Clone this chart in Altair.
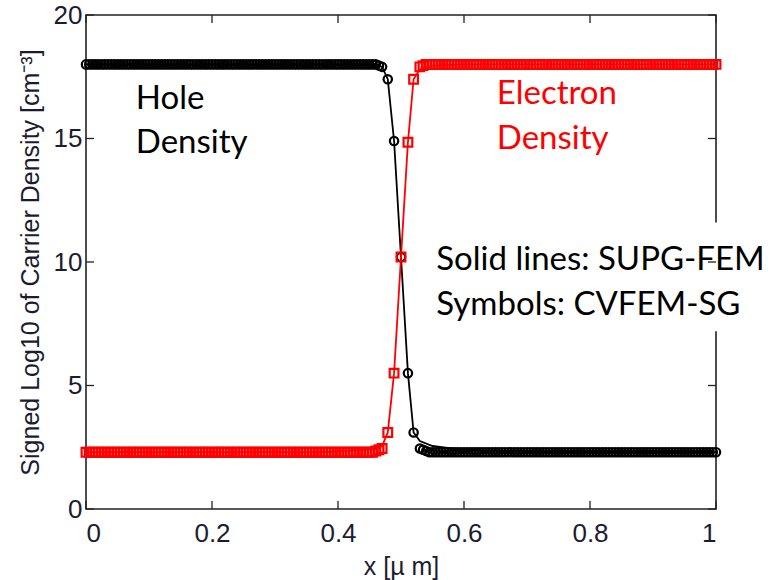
import altair as alt
import pandas as pd

# ---- data ----
x_left = [0.000, 0.005, 0.010, 0.015, 0.020, 0.025, 0.030, 0.035, 0.040, 0.045,
          0.050, 0.055, 0.060, 0.065, 0.070, 0.075, 0.080, 0.085, 0.090, 0.095,
          0.100, 0.105, 0.110, 0.115, 0.120, 0.125, 0.130, 0.135, 0.140, 0.145,
          0.150, 0.155, 0.160, 0.165, 0.170, 0.175, 0.180, 0.185, 0.190, 0.195,
          0.200, 0.205, 0.210, 0.215, 0.220, 0.225, 0.230, 0.235, 0.240, 0.245,
          0.250, 0.255, 0.260, 0.265, 0.270, 0.275, 0.280, 0.285, 0.290, 0.295,
          0.300, 0.305, 0.310, 0.315, 0.320, 0.325, 0.330, 0.335, 0.340, 0.345,
          0.350, 0.355, 0.360, 0.365, 0.370, 0.375, 0.380, 0.385, 0.390, 0.395,
          0.400, 0.405, 0.410, 0.415, 0.420, 0.425, 0.430, 0.435, 0.440, 0.445,
          0.450, 0.455, 0.460, 0.465, 0.470]
x_mid = [0.479, 0.489, 0.500, 0.511, 0.520]
x_right = [0.530, 0.535, 0.540, 0.545, 0.550, 0.555, 0.560, 0.565, 0.570, 0.575,
           0.580, 0.585, 0.590, 0.595, 0.600, 0.605, 0.610, 0.615, 0.620, 0.625,
           0.630, 0.635, 0.640, 0.645, 0.650, 0.655, 0.660, 0.665, 0.670, 0.675,
           0.680, 0.685, 0.690, 0.695, 0.700, 0.705, 0.710, 0.715, 0.720, 0.725,
           0.730, 0.735, 0.740, 0.745, 0.750, 0.755, 0.760, 0.765, 0.770, 0.775,
           0.780, 0.785, 0.790, 0.795, 0.800, 0.805, 0.810, 0.815, 0.820, 0.825,
           0.830, 0.835, 0.840, 0.845, 0.850, 0.855, 0.860, 0.865, 0.870, 0.875,
           0.880, 0.885, 0.890, 0.895, 0.900, 0.905, 0.910, 0.915, 0.920, 0.925,
           0.930, 0.935, 0.940, 0.945, 0.950, 0.955, 0.960, 0.965, 0.970, 0.975,
           0.980, 0.985, 0.990, 0.995, 1.000]
x_mesh = x_left + x_mid + x_right

# symbols (CVFEM-SG)
hole_sym = [18.0] * 93 + [17.95, 17.9] + [17.4, 14.9, 10.2, 5.5, 3.1] + [2.45, 2.4, 2.35] + [2.3] * 92
elec_sym = [2.3] * 92 + [2.35, 2.4, 2.45] + [3.1, 5.5, 10.2, 14.85, 17.4] + [17.9, 17.95] + [18.0] * 93

# solid lines (SUPG-FEM)
hole_line_x = [0.00, 0.46, 0.47, 0.479, 0.489, 0.50, 0.511, 0.52, 0.53, 0.55, 0.58, 0.62, 0.70, 1.00]
hole_line_y = [18.0, 18.0, 17.9, 17.4, 14.9, 10.2, 5.5, 3.1, 2.75, 2.55, 2.45, 2.38, 2.32, 2.3]
elec_line_x = [0.00, 0.38, 0.42, 0.46, 0.47, 0.479, 0.489, 0.50, 0.511, 0.52, 0.53, 0.55, 0.60, 1.00]
elec_line_y = [2.3, 2.3, 2.36, 2.42, 2.55, 3.1, 5.5, 10.2, 14.85, 17.4, 17.8, 17.95, 18.0, 18.0]

x_ticks = [0, 0.2, 0.4, 0.6, 0.8, 1.0]
y_ticks = [0, 5, 10, 15, 20]

FONT = "Liberation Sans"
ANN_FONT = "Lato"
AX_COLOR = "#1c1c30"

xs = alt.Scale(domain=[0, 1], nice=False, zero=False)
ys = alt.Scale(domain=[0, 20], nice=False, zero=False)

xaxis = alt.Axis(values=x_ticks, ticks=False, domain=False, grid=False, labelFont=FONT,
                 labelFontSize=26, labelColor=AX_COLOR, labelPadding=11, format="~g",
                 title="x [µ m]", titleFont=FONT, titleFontSize=25, titleFontWeight="normal",
                 titleColor=AX_COLOR, titlePadding=8)
yaxis = alt.Axis(values=y_ticks, ticks=False, domain=False, grid=False, labelFont=FONT,
                 labelFontSize=26, labelColor=AX_COLOR, labelPadding=4,
                 title="Signed Log10 of Carrier Density [cm⁻³]", titleFont=FONT, titleFontSize=25,
                 titleFontWeight="normal", titleColor=AX_COLOR, titlePadding=10)

sym_h = pd.DataFrame({"x": x_mesh, "y": hole_sym})
sym_e = pd.DataFrame({"x": x_mesh, "y": elec_sym})
ln_h = pd.DataFrame({"x": hole_line_x, "y": hole_line_y})
ln_e = pd.DataFrame({"x": elec_line_x, "y": elec_line_y})

# white box behind the note (covers the right frame as in the reference)
box = pd.DataFrame({"x": [0.545], "x2": [1.08], "y": [7.2], "y2": [11.6]})
box_l = alt.Chart(box).mark_rect(color="white", clip=False).encode(
    x=alt.X("x:Q", scale=xs, axis=xaxis), x2="x2", y=alt.Y("y:Q", scale=ys, axis=yaxis), y2="y2")

# inner ticks (MATLAB style) on all four sides
tb = pd.DataFrame({"t": x_ticks})
tl = pd.DataFrame({"t": y_ticks})
tick_len_y = 0.32
tick_len_x = 0.0127
t_bottom = alt.Chart(tb).mark_rule(color="#222", strokeWidth=1.3).encode(
    x="t:Q", y=alt.datum(0), y2=alt.datum(tick_len_y))
t_top = alt.Chart(tb).mark_rule(color="#222", strokeWidth=1.3).encode(
    x="t:Q", y=alt.datum(20), y2=alt.datum(20 - tick_len_y))
t_left = alt.Chart(tl).mark_rule(color="#222", strokeWidth=1.3).encode(
    y="t:Q", x=alt.datum(0), x2=alt.datum(tick_len_x))
t_right = alt.Chart(tl).mark_rule(color="#222", strokeWidth=1.3).encode(
    y="t:Q", x=alt.datum(1), x2=alt.datum(1 - tick_len_x))

line_h = alt.Chart(ln_h).mark_line(color="black", strokeWidth=1.8).encode(x="x:Q", y="y:Q")
line_e = alt.Chart(ln_e).mark_line(color="#ff0000", strokeWidth=1.8).encode(x="x:Q", y="y:Q")
pts_h = alt.Chart(sym_h).mark_point(shape="circle", size=70, color="black", strokeWidth=2.2,
                                    filled=False, opacity=1).encode(x="x:Q", y="y:Q")
pts_e = alt.Chart(sym_e).mark_point(shape="square", size=76, color="#ff0000", strokeWidth=2.2,
                                    filled=False, opacity=1).encode(x="x:Q", y="y:Q")

# annotations
ann = pd.DataFrame({
    "x": [0.079, 0.079, 0.652, 0.652, 0.556, 0.556],
    "y": [16.6, 14.8, 16.8, 15.0, 10.1, 8.25],
    "text": ["Hole", "Density", "Electron", "Density", "Solid lines: SUPG-FEM", "Symbols: CVFEM-SG"],
    "c": ["k", "k", "r", "r", "k", "k"],
})
ann_l = alt.Chart(ann).mark_text(font=ANN_FONT, fontSize=33, align="left", baseline="middle").encode(
    x="x:Q", y="y:Q", text="text:N",
    color=alt.Color("c:N", scale=alt.Scale(domain=["k", "r"], range=["black", "#ff0000"]), legend=None))

chart = alt.layer(box_l, line_h, line_e, pts_h, pts_e, t_bottom, t_top, t_left, t_right, ann_l).properties(
    width=630, height=494,
    autosize=alt.AutoSizeParams(type="none"),
    padding={"left": 86, "top": 15, "right": 55, "bottom": 71},
    background="white",
).configure_view(stroke="#222", strokeWidth=1.6)

chart.save("out.html", embed_options={"renderer": "svg", "actions": False})
